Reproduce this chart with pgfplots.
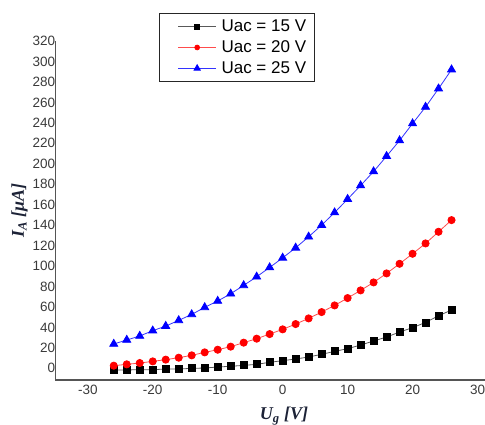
\documentclass[border=0pt]{standalone}
\usepackage{fontspec}
\setmainfont{Liberation Sans}
\newfontfamily\serifbf{Liberation Serif}
\usepackage{pgfplots}
\usepackage{pgfplotstable}
\pgfplotsset{compat=1.18}

\definecolor{axgray}{HTML}{555555}
\definecolor{labgray}{HTML}{3A3A3A}
\definecolor{labnavy}{HTML}{1C2236}

% I_A vs U_g, one table per anode voltage
\pgfplotstableread{
x y
-26 -1.6
-24 -1.6
-22 -1.3
-20 -1.3
-18 -0.7
-16 -0.7
-14 0.0
-12 0.3
-10 1.3
-8 2.0
-6 2.9
-4 3.9
-2 5.9
0 7.5
2 9.1
4 11.1
6 13.7
8 16.6
10 19.2
12 22.8
14 26.7
16 30.6
18 35.5
20 39.7
22 44.9
24 51.4
26 57.0
}\uacA

\pgfplotstableread{
x y
-26 2.6
-24 3.9
-22 5.2
-20 6.8
-18 8.5
-16 10.4
-14 12.7
-12 15.6
-10 18.2
-8 21.2
-6 25.1
-4 29.0
-2 33.5
0 38.1
2 43.3
4 48.8
6 55.0
8 61.5
10 68.7
12 76.2
14 84.0
16 92.8
18 102.2
20 112.0
22 122.1
24 133.5
26 144.9
}\uacB

\pgfplotstableread{
x y
-26 23.8
-24 27.7
-22 31.6
-20 36.8
-18 41.3
-16 46.9
-14 52.7
-12 59.6
-10 65.8
-8 72.9
-6 81.1
-4 89.5
-2 98.6
0 108.0
2 117.8
4 128.6
6 140.0
8 152.3
10 165.4
12 178.7
14 192.4
16 207.4
18 222.7
20 239.3
22 255.5
24 273.4
26 292.0
}\uacC

\begin{document}
\begin{tikzpicture}
\begin{axis}[
    name=main,
    scale only axis, width=430pt, height=339pt,
    xmin=-35, xmax=31.2, ymin=-11.4, ymax=320,
    axis x line*=bottom, axis y line*=left,
    axis line style={axgray, line width=1.2pt, -},
    xtick={-30,-20,...,30}, ytick={0,20,...,320},
    major tick length=0pt,
    /pgf/number format/assume math mode=true,
    tick label style={font=\fontsize{13.5}{14}\selectfont, text=labgray},
    yticklabel style={inner xsep=0pt},
    xticklabel style={yshift=-2pt},
    xlabel={{\serifbf\bfseries\itshape U\textsubscript{g} [V]}},
    ylabel={{\serifbf\bfseries\itshape I\textsubscript{A} [μA]}},
    label style={font=\fontsize{18}{20}\selectfont, text=labnavy},
    xlabel style={at={(axis description cs:0.532,-0.118)}, anchor=base},
    ylabel style={at={(axis description cs:-0.0728,0.5)}, anchor=base},
    legend style={at={(0.242,1.082)}, anchor=north west,
        draw=black!85, line width=0.8pt, fill=white,
        font=\fontsize{17}{20}\selectfont, row sep=3.5pt,
        inner xsep=6pt, inner ysep=4.5pt},
    legend cell align=left,
    legend image code/.code={
        \path (-12pt,0pt);
        \draw[mark repeat=2, mark phase=2, #1]
            plot coordinates {(0pt,0pt) (19pt,0pt) (38pt,0pt)};
        \path (41pt,0pt);
    },
]
\addplot[color=black!65, line width=0.8pt, mark=square*,
    mark size=3.5pt, mark options={black, solid},
    legend image post style={mark size=2.3pt}] table {\uacA};
\addplot[color=red!70, line width=0.8pt, mark=*,
    mark size=3.6pt, mark options={red, solid},
    legend image post style={mark size=2.4pt}] table {\uacB};
\addplot[color=blue!80, line width=0.8pt, mark=triangle*,
    mark size=4.6pt, mark options={blue, solid},
    legend image post style={mark size=3.6pt}] table {\uacC};
\legend{Uac = 15 V, Uac = 20 V, Uac = 25 V}
\end{axis}
\pgfresetboundingbox
\path[use as bounding box]
    ([xshift=-55.3pt, yshift=-45pt]main.south west) rectangle
    ([xshift=429.7pt, yshift=380pt]main.south west);
\end{tikzpicture}
\end{document}
